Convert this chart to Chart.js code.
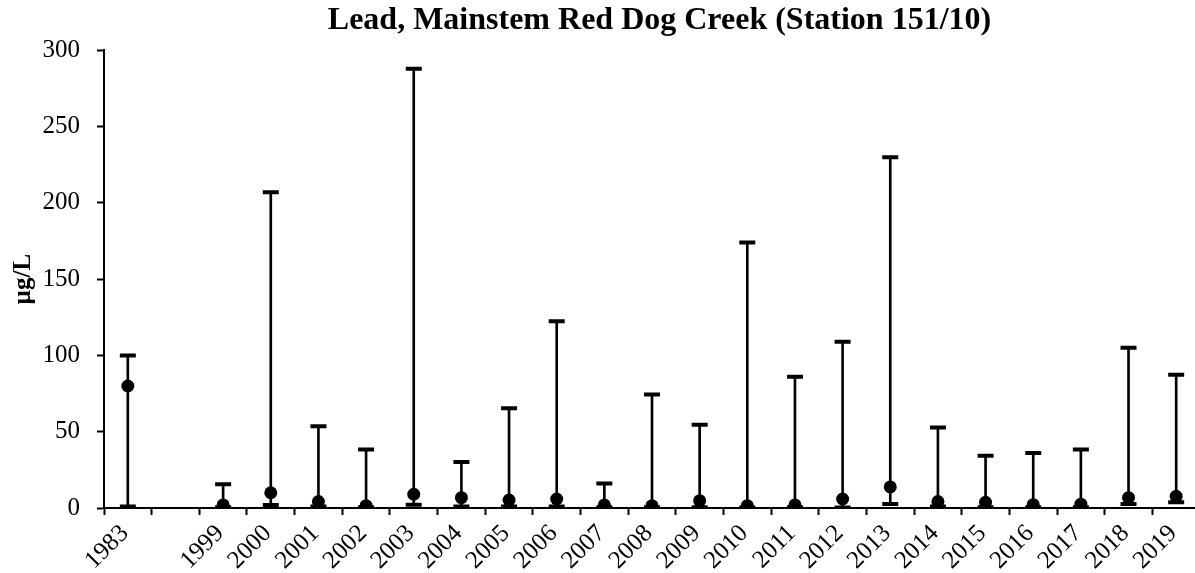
<!DOCTYPE html>
<html>
<head>
<meta charset="utf-8">
<script src="https://cdn.jsdelivr.net/npm/chart.js@4/dist/chart.umd.min.js"></script>
<style>
  html, body { margin: 0; padding: 0; background: #fff; }
  #wrap { width: 1195px; height: 573px; }
</style>
</head>
<body>
<div id="wrap"><canvas id="c" width="1195" height="573"></canvas></div>
<script>
const years = ['1983', '', '1999', '2000', '2001', '2002', '2003', '2004', '2005', '2006', '2007', '2008',
  '2009', '2010', '2011', '2012', '2013', '2014', '2015', '2016', '2017', '2018', '2019'];
const maxVals = [100, null, 15.5, 207, 53.6, 38.3, 288, 30.2, 65.4, 122.5, 16, 74.4,
  54.5, 174, 86, 109, 230, 52.7, 34.3, 36.1, 38.3, 105, 87.3];
const centerVals = [80, null, 2, 10, 4.2, 1.5, 9, 6.8, 5.2, 5.9, 2, 1.5,
  4.8, 1.5, 2, 5.9, 13.8, 4.2, 3.7, 2.2, 2.5, 6.8, 7.7];
const minVals = [1, null, 0.5, 2, 1, 0.5, 2.2, 1, 1, 1, 0.5, 0.5,
  0.5, 0.3, 0.5, 0.3, 2.6, 1, 0.5, 0.5, 0.5, 2.6, 3.7];
const yTicks = [0, 50, 100, 150, 200, 250, 300];

const ranges = minVals.map((v, i) => (v === null ? null : [v, maxVals[i]]));
const serif = '"Liberation Serif", "Times New Roman", serif';

const layoutTweak = {
  id: 'layoutTweak',
  afterLayout(chart) {
    if (chart.titleBlock) { chart.titleBlock.left += 20; }
    const x = chart.scales.x;
    const extra = 5;
    x.right += extra;
    x.width = x.right - x.left;
    x.configure();
    chart.chartArea.right += extra;
    chart.chartArea.width = chart.chartArea.right - chart.chartArea.left;
  }
};

new Chart(document.getElementById('c'), {
  type: 'bar',
  data: {
    labels: years,
    datasets: [
      { label: 'Range', data: ranges, backgroundColor: '#000', barThickness: 2, order: 3 },
      { type: 'line', label: 'Max', data: maxVals, showLine: false, pointStyle: 'line',
        pointRadius: 8, pointBorderWidth: 4, borderColor: '#000', backgroundColor: '#000', order: 2 },
      { type: 'line', label: 'Min', data: minVals, showLine: false, pointStyle: 'line',
        pointRadius: 8, pointBorderWidth: 4, borderColor: '#000', backgroundColor: '#000', order: 2 },
      { type: 'line', label: 'Center', data: centerVals, showLine: false, pointStyle: 'circle',
        pointRadius: 6.5, pointBorderWidth: 0, borderColor: '#000', backgroundColor: '#000', order: 1 }
    ]
  },
  plugins: [layoutTweak],
  options: {
    responsive: false,
    animation: false,
    layout: { autoPadding: false, padding: { left: 0, right: 0, top: 0, bottom: 0 } },
    plugins: {
      legend: { display: false },
      tooltip: { enabled: false },
      title: {
        display: true,
        fullSize: false,
        text: 'Lead, Mainstem Red Dog Creek (Station 151/10)',
        color: '#000',
        font: { family: serif, size: 32, weight: 'bold', lineHeight: 1.2 },
        padding: { top: 2, bottom: 10 }
      }
    },
    scales: {
      x: {
        offset: true,
        afterFit: (axis) => { axis.paddingLeft = 0; axis.paddingRight = 0; axis.height = 65; },
        border: { display: true, color: '#000', width: 2 },
        grid: { display: true, offset: true, drawOnChartArea: false, drawTicks: true,
          tickLength: 7, tickWidth: 2, tickColor: '#000' },
        ticks: { color: '#000', font: { family: serif, size: 25 }, maxRotation: 45, minRotation: 45,
          autoSkip: false, padding: 4, labelOffset: -3 }
      },
      y: {
        min: 0,
        max: 300,
        afterBuildTicks: (axis) => { axis.ticks = yTicks.map(v => ({ value: v })); },
        afterFit: (axis) => { axis.width = 104; },
        border: { display: true, color: '#000', width: 2 },
        grid: { display: true, drawOnChartArea: false, drawTicks: true,
          tickLength: 7, tickWidth: 2, tickColor: '#000' },
        ticks: { color: '#000', font: { family: serif, size: 25 }, padding: 17 },
        title: {
          display: true,
          text: 'µg/L',
          color: '#000',
          font: { family: serif, size: 25, weight: 'bold', lineHeight: 1.2 },
          padding: { top: 9, bottom: 4 }
        }
      }
    }
  }
});
</script>
</body>
</html>
